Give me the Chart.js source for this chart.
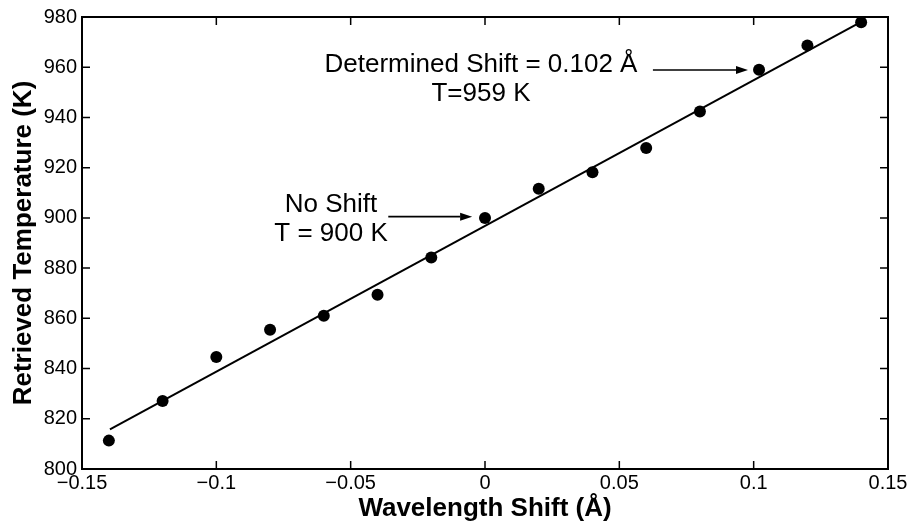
<!DOCTYPE html>
<html>
<head>
<meta charset="utf-8">
<script src="https://cdn.jsdelivr.net/npm/chart.js@4.4.1/dist/chart.umd.min.js"></script>
<style>
  html, body { margin: 0; padding: 0; background: #fff; }
  #wrap { width: 912px; height: 522px; }
</style>
</head>
<body>
<div id="wrap"><canvas id="grafica" width="912" height="522"></canvas></div>
<script>
// Datos
const shifts = [-0.14, -0.12, -0.10, -0.08, -0.06, -0.04, -0.02, 0, 0.02, 0.04, 0.06, 0.08, 0.102, 0.12, 0.14];
const temps = [811.3, 827.1, 844.6, 855.5, 861.0, 869.4, 884.2, 900.0, 911.6, 918.2, 927.8, 942.4, 959.0, 968.7, 977.9];

// Recta de ajuste (extremos)
const fitShifts = [-0.1396, 0.14];
const fitTemps = [815.8, 978.1];

// Ticks
const xTicks = [-0.15, -0.1, -0.05, 0, 0.05, 0.1, 0.15];
const xTickLabels = ['\u22120.15', '\u22120.1', '\u22120.05', '0', '0.05', '0.1', '0.15'];
const yTicks = [800, 820, 840, 860, 880, 900, 920, 940, 960, 980];

// Textos de las anotaciones
const notaShift = ['Determined Shift = 0.102 \u00C5', 'T=959 K'];
const notaCero = ['No Shift', 'T = 900 K'];

const fuente = '"Liberation Sans", Arial, Helvetica, sans-serif';

// Dibuja una flecha con punta rellena
function flecha(ctx, x1, y1, x2, y2) {
    const ang = Math.atan2(y2 - y1, x2 - x1);
    const largo = 12, ancho = 4;
    ctx.beginPath();
    ctx.moveTo(x1, y1);
    ctx.lineTo(x2 - largo * Math.cos(ang), y2 - largo * Math.sin(ang));
    ctx.stroke();
    ctx.beginPath();
    ctx.moveTo(x2, y2);
    ctx.lineTo(x2 - largo * Math.cos(ang) + ancho * Math.sin(ang), y2 - largo * Math.sin(ang) - ancho * Math.cos(ang));
    ctx.lineTo(x2 - largo * Math.cos(ang) - ancho * Math.sin(ang), y2 - largo * Math.sin(ang) + ancho * Math.cos(ang));
    ctx.closePath();
    ctx.fill();
}

// Marco, ticks hacia dentro y anotaciones
const marcoPlugin = {
    id: 'marco',
    afterDraw(chart) {
        const ctx = chart.ctx;
        const a = chart.chartArea;
        const x = chart.scales.x, y = chart.scales.y;
        ctx.save();
        ctx.strokeStyle = '#000';
        ctx.fillStyle = '#000';
        ctx.lineWidth = 2;
        ctx.strokeRect(a.left, a.top, a.right - a.left, a.bottom - a.top);

        ctx.lineWidth = 1.5;
        ctx.beginPath();
        xTicks.forEach(v => {
            const px = x.getPixelForValue(v);
            ctx.moveTo(px, a.bottom); ctx.lineTo(px, a.bottom - 8);
            ctx.moveTo(px, a.top); ctx.lineTo(px, a.top + 8);
        });
        yTicks.forEach(v => {
            const py = y.getPixelForValue(v);
            ctx.moveTo(a.left, py); ctx.lineTo(a.left + 8, py);
            ctx.moveTo(a.right, py); ctx.lineTo(a.right - 8, py);
        });
        ctx.stroke();

        // anotaciones
        ctx.font = '26px ' + fuente;
        ctx.textAlign = 'center';
        ctx.textBaseline = 'alphabetic';
        ctx.fillText(notaShift[0], x.getPixelForValue(-0.0015), y.getPixelForValue(958.1));
        ctx.fillText(notaShift[1], x.getPixelForValue(-0.0015), y.getPixelForValue(946.5));
        ctx.fillText(notaCero[0], x.getPixelForValue(-0.0573), y.getPixelForValue(902.3));
        ctx.fillText(notaCero[1], x.getPixelForValue(-0.0573), y.getPixelForValue(890.8));

        ctx.lineWidth = 1.6;
        flecha(ctx, x.getPixelForValue(0.0625), y.getPixelForValue(958.9), x.getPixelForValue(0.0979), y.getPixelForValue(958.9));
        flecha(ctx, x.getPixelForValue(-0.036), y.getPixelForValue(900.5), x.getPixelForValue(-0.0048), y.getPixelForValue(900.5));
        ctx.restore();
    }
};

const ctx = document.getElementById('grafica').getContext('2d');
new Chart(ctx, {
    type: 'scatter',
    data: {
        datasets: [
            {
                label: 'Ajuste',
                data: fitShifts.map((v, i) => ({ x: v, y: fitTemps[i] })),
                showLine: true,
                borderColor: '#000',
                borderWidth: 2,
                pointRadius: 0,
                fill: false
            },
            {
                label: 'Temperatura',
                data: shifts.map((v, i) => ({ x: v, y: temps[i] })),
                backgroundColor: '#000',
                borderColor: '#000',
                pointRadius: 6,
                pointBorderWidth: 0
            }
        ]
    },
    options: {
        responsive: false,
        devicePixelRatio: 1,
        animation: false,
        layout: { padding: { left: 0, right: 24, top: 17, bottom: 0 } },
        plugins: {
            legend: { display: false },
            tooltip: { enabled: false }
        },
        scales: {
            x: {
                type: 'linear',
                min: -0.15,
                max: 0.15,
                afterBuildTicks: s => { s.ticks = xTicks.map(v => ({ value: v })); },
                afterFit: s => { s.height = 53; },
                grid: { display: false, drawTicks: false },
                border: { display: false },
                ticks: {
                    callback: (v, i) => xTickLabels[i],
                    color: '#000',
                    font: { family: fuente, size: 20 },
                    padding: 2,
                    maxRotation: 0,
                    autoSkip: false
                },
                title: {
                    display: true,
                    text: 'Wavelength Shift (\u00C5)',
                    color: '#000',
                    font: { family: fuente, size: 26, weight: 'bold' },
                    padding: { top: 0, bottom: -2 }
                }
            },
            y: {
                min: 800,
                max: 980,
                afterBuildTicks: s => { s.ticks = yTicks.map(v => ({ value: v })); },
                afterFit: s => { s.width = 82; },
                grid: { display: false, drawTicks: false },
                border: { display: false },
                ticks: {
                    color: '#000',
                    font: { family: fuente, size: 20 },
                    padding: 5,
                    autoSkip: false
                },
                title: {
                    display: true,
                    text: 'Retrieved Temperature (K)',
                    color: '#000',
                    font: { family: fuente, size: 26, weight: 'bold' },
                    padding: { top: 8, bottom: 0 }
                }
            }
        }
    },
    plugins: [marcoPlugin]
});
</script>
</body>
</html>
